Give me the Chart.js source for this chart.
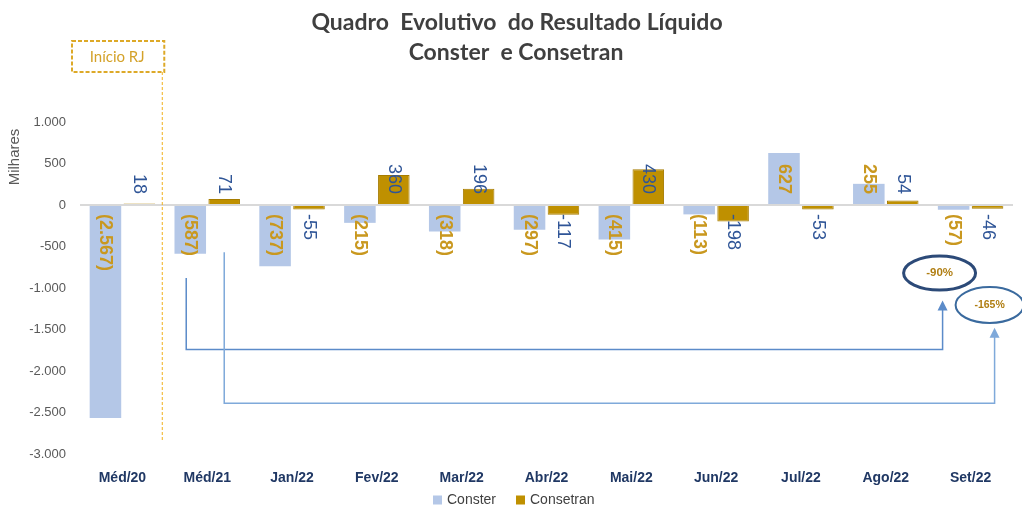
<!DOCTYPE html>
<html>
<head>
<meta charset="utf-8">
<script src="https://cdn.jsdelivr.net/npm/chart.js@4/dist/chart.umd.min.js"></script>
<style>
  html, body { margin: 0; padding: 0; background: #ffffff; }
  #wrap { width: 1022px; height: 507px; position: relative; }
</style>
</head>
<body>
<div id="wrap"><canvas id="c" width="1022" height="507"></canvas></div>
<script>
// ---- data ----
const categories = ['Méd/20', 'Méd/21', 'Jan/22', 'Fev/22', 'Mar/22', 'Abr/22', 'Mai/22', 'Jun/22', 'Jul/22', 'Ago/22', 'Set/22'];
const consterValues = [-2567, -587, -737, -215, -318, -297, -415, -113, 627, 255, -57];
const consetranValues = [18, 71, -55, 360, 196, -117, 430, -198, -53, 54, -46];
const seriesNames = ['Conster', 'Consetran'];
const yMin = -3000, yMax = 1000, yStep = 500;
const titleLines = ['Quadro  Evolutivo  do Resultado Líquido', 'Conster  e Consetran'];
const unitLabel = 'Milhares';
const startLabel = 'Início RJ';
const variationLabels = ['-90%', '-165%'];

// ---- helpers ----
function fmtThousands(v) {
  const s = Math.abs(Math.round(v)).toString().replace(/\B(?=(\d{3})+(?!\d))/g, '.');
  return (v < 0 ? '-' : '') + s;
}
function fmtConster(v) {
  const s = Math.abs(Math.round(v)).toString().replace(/\B(?=(\d{3})+(?!\d))/g, '.');
  return v < 0 ? '(' + s + ')' : s;
}

const COL_CONSTER = '#B4C7E7';
const COL_CONSETRAN = '#BF9000';

const decorPlugin = {
  id: 'decor',
  afterDraw(chart) {
    const ctx = chart.ctx;
    const xs = chart.scales.x, ys = chart.scales.y;
    ctx.save();

    // Title
    ctx.fillStyle = '#3F3F3F';
    ctx.font = 'bold 23px Lato, "Liberation Sans", sans-serif';
    ctx.textAlign = 'center';
    ctx.textBaseline = 'middle';
    ctx.fillText(titleLines[0], 517, 23);
    ctx.fillText(titleLines[1], 516, 53);

    // Unit label (Milhares)
    ctx.save();
    ctx.translate(15, 157);
    ctx.rotate(-Math.PI / 2);
    ctx.fillStyle = '#595959';
    ctx.font = '15px "Liberation Sans", Arial, sans-serif';
    ctx.textAlign = 'center';
    ctx.textBaseline = 'middle';
    ctx.fillText(unitLabel, 0, 0);
    ctx.restore();

    // Legend
    ctx.font = '14px "Liberation Sans", Arial, sans-serif';
    ctx.textAlign = 'left';
    ctx.textBaseline = 'middle';
    ctx.fillStyle = COL_CONSTER;
    ctx.fillRect(433, 495.5, 9, 9);
    ctx.fillStyle = '#404040';
    ctx.fillText(seriesNames[0], 447, 500);
    ctx.fillStyle = COL_CONSETRAN;
    ctx.fillRect(516, 495.5, 9, 9);
    ctx.fillStyle = '#404040';
    ctx.fillText(seriesNames[1], 530, 500);

    // Início RJ box + dashed separator
    const sepX = xs.getPixelForValue(0.47);
    ctx.strokeStyle = '#DDA928';
    ctx.lineWidth = 2;
    ctx.setLineDash([4, 2]);
    ctx.strokeRect(72, 41, sepX + 2 - 72, 31);
    ctx.lineWidth = 1;
    ctx.setLineDash([3, 2]);
    ctx.strokeStyle = '#F2B21C';
    ctx.beginPath();
    ctx.moveTo(sepX, 72);
    ctx.lineTo(sepX, ys.getPixelForValue(-2850));
    ctx.stroke();
    ctx.setLineDash([]);
    ctx.fillStyle = '#D4A22A';
    ctx.font = '15px Lato, "Liberation Sans", sans-serif';
    ctx.textAlign = 'center';
    ctx.fillText(startLabel, (72 + sepX) / 2, 57);

    // Arrows
    function arrow(color, x1, yStart, yHoriz, x2, yTip) {
      ctx.strokeStyle = color;
      ctx.fillStyle = color;
      ctx.lineWidth = 1.5;
      ctx.beginPath();
      ctx.moveTo(x1, yStart);
      ctx.lineTo(x1, yHoriz);
      ctx.lineTo(x2, yHoriz);
      ctx.lineTo(x2, yTip + 8);
      ctx.stroke();
      ctx.beginPath();
      ctx.moveTo(x2, yTip);
      ctx.lineTo(x2 - 5, yTip + 10);
      ctx.lineTo(x2 + 5, yTip + 10);
      ctx.closePath();
      ctx.fill();
    }
    arrow('#5B8BC9', xs.getPixelForValue(1) - 21, ys.getPixelForValue(-880), ys.getPixelForValue(-1740),
          xs.getPixelForValue(10) - 28, ys.getPixelForValue(-1150));
    arrow('#7FA9DA', xs.getPixelForValue(1) + 17, ys.getPixelForValue(-570), ys.getPixelForValue(-2390),
          xs.getPixelForValue(10) + 24, ys.getPixelForValue(-1480));

    // Ellipses
    function ell(cx, cy, rx, ry, lw, col, txt, fs) {
      ctx.beginPath();
      ctx.ellipse(cx, cy, rx, ry, 0, 0, Math.PI * 2);
      ctx.fillStyle = '#ffffff';
      ctx.fill();
      ctx.lineWidth = lw;
      ctx.strokeStyle = col;
      ctx.stroke();
      ctx.fillStyle = '#B07E12';
      ctx.font = 'bold ' + fs + 'px "Liberation Sans", Arial, sans-serif';
      ctx.textAlign = 'center';
      ctx.textBaseline = 'middle';
      ctx.fillText(txt, cx, cy);
    }
    ell(xs.getPixelForValue(10) - 31, ys.getPixelForValue(-820), 36, 17, 3, '#2C4A78', variationLabels[0], 11.5);
    ell(xs.getPixelForValue(10) + 19, ys.getPixelForValue(-1205), 34, 18, 2, '#3A6A9E', variationLabels[1], 10.5);

    ctx.restore();
  }
};

const labelPlugin = {
  id: 'valueLabels',
  afterDatasetsDraw(chart) {
    const ctx = chart.ctx;
    ctx.save();
    chart.data.datasets.forEach((ds, di) => {
      const meta = chart.getDatasetMeta(di);
      meta.data.forEach((bar, i) => {
        const v = ds.data[i];
        const base = chart.scales.y.getPixelForValue(0);
        ctx.save();
        ctx.translate(bar.x, base);
        ctx.rotate(Math.PI / 2);
        ctx.textBaseline = 'middle';
        if (di === 0) {
          ctx.font = 'bold 18px "Liberation Sans", Arial, sans-serif';
          ctx.fillStyle = '#C9981F';
        } else {
          ctx.font = '18px "Liberation Sans", Arial, sans-serif';
          ctx.fillStyle = '#2F5597';
        }
        const txt = di === 0 ? fmtConster(v) : String(v);
        if (v < 0) {
          ctx.textAlign = 'left';
          ctx.fillText(txt, 9, 0);
        } else {
          ctx.textAlign = 'right';
          ctx.fillText(txt, -11, 0);
        }
        ctx.restore();
      });
    });
    ctx.restore();
  }
};

new Chart(document.getElementById('c'), {
  type: 'bar',
  data: {
    labels: categories,
    datasets: [
      {
        label: seriesNames[0],
        data: consterValues,
        backgroundColor: COL_CONSTER,
        borderWidth: 0,
        categoryPercentage: 0.8,
        barPercentage: 0.93
      },
      {
        label: seriesNames[1],
        data: consetranValues,
        backgroundColor: COL_CONSETRAN,
        borderColor: '#A67C00',
        borderWidth: 1,
        categoryPercentage: 0.8,
        barPercentage: 0.93
      }
    ]
  },
  options: {
    responsive: false,
    animation: false,
    devicePixelRatio: 1,
    layout: { padding: { top: 122, left: 0, right: 9, bottom: 0 } },
    plugins: {
      legend: { display: false },
      title: { display: false },
      tooltip: { enabled: false }
    },
    scales: {
      x: {
        grid: { display: false },
        border: { display: false },
        ticks: {
          color: '#203864',
          font: { family: '"Liberation Sans", Arial, sans-serif', size: 14, weight: 'bold' },
          padding: 8,
          maxRotation: 0
        },
        afterFit(s) { s.height = 53; }
      },
      y: {
        min: yMin,
        max: yMax,
        grid: {
          drawTicks: false,
          lineWidth: 2,
          color: (c) => (c.tick && c.tick.value === 0 ? '#D9D9D9' : 'rgba(0,0,0,0)')
        },
        border: { display: false },
        ticks: {
          stepSize: yStep,
          color: '#595959',
          font: { family: '"Liberation Sans", Arial, sans-serif', size: 13 },
          padding: 14,
          callback: (v) => fmtThousands(v)
        },
        afterFit(s) { s.width = 80; }
      }
    }
  },
  plugins: [labelPlugin, decorPlugin]
});
</script>
</body>
</html>
